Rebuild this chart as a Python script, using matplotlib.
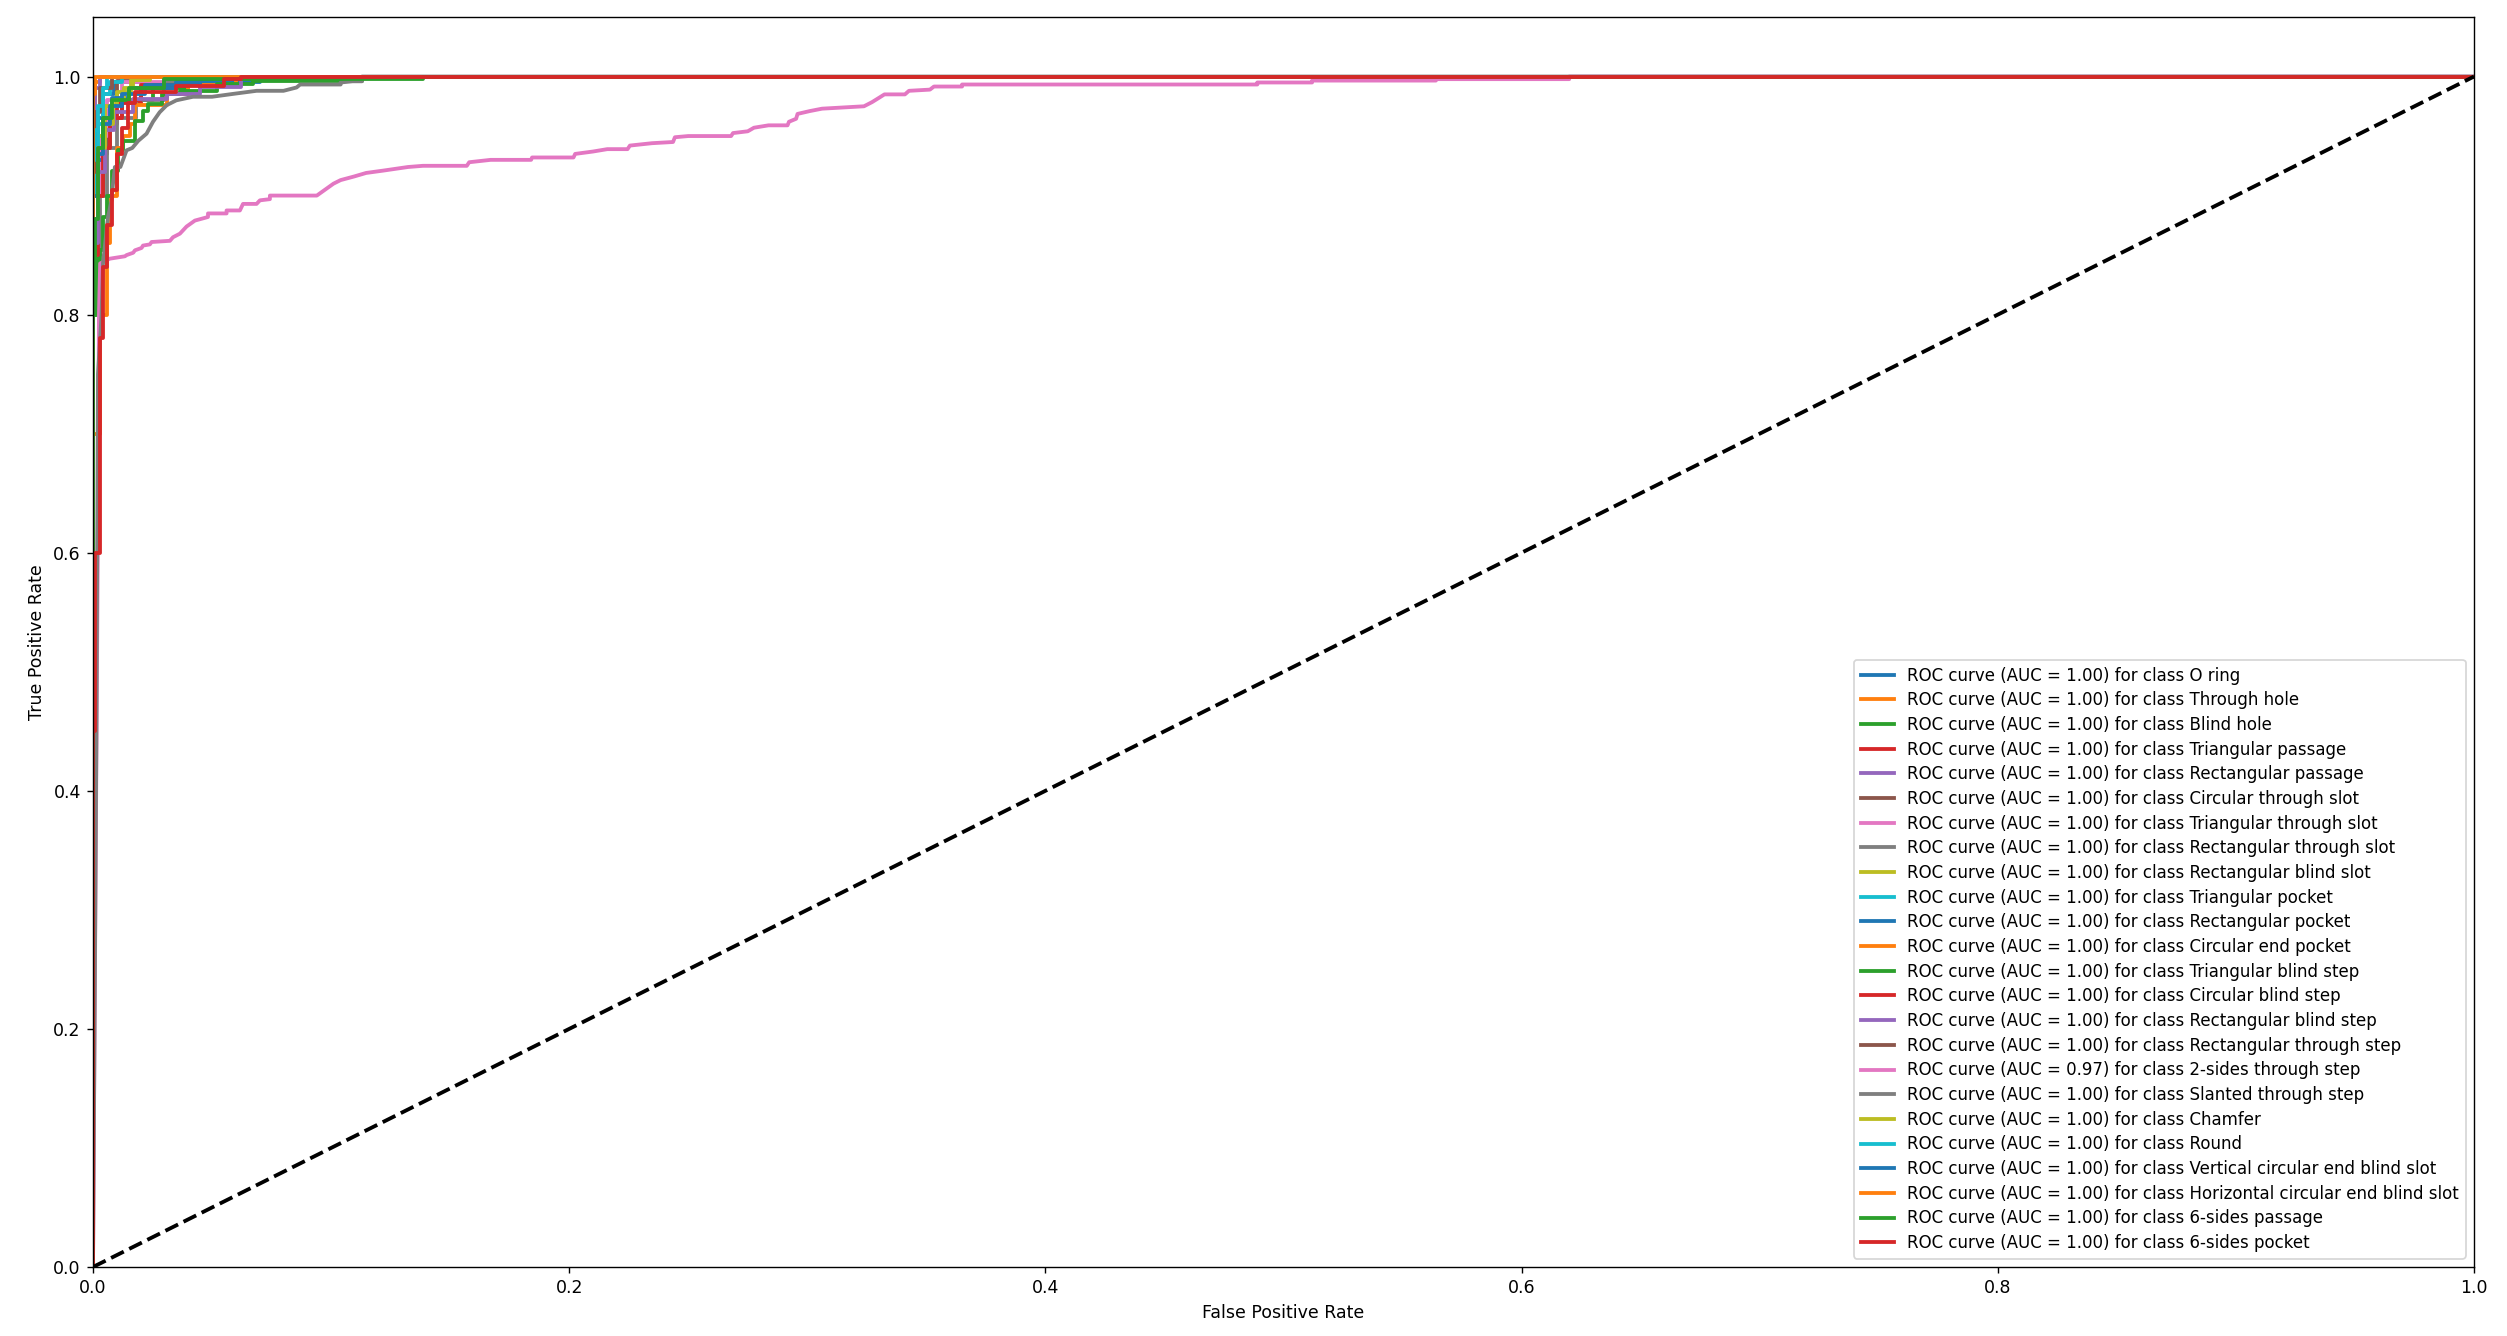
import numpy as np
import matplotlib
matplotlib.use("Agg")
import matplotlib.pyplot as plt

class_names = ['O ring', 'Through hole', 'Blind hole', 'Triangular passage',
               'Rectangular passage', 'Circular through slot', 'Triangular through slot',
               'Rectangular through slot', 'Rectangular blind slot', 'Triangular pocket',
               'Rectangular pocket', 'Circular end pocket', 'Triangular blind step',
               'Circular blind step', 'Rectangular blind step', 'Rectangular through step',
               '2-sides through step', 'Slanted through step', 'Chamfer', 'Round',
               'Vertical circular end blind slot', 'Horizontal circular end blind slot',
               '6-sides passage', '6-sides pocket']
auc_values = [1.00] * 16 + [0.97] + [1.00] * 7

# fpr / tpr points per class
roc_fpr = [
    [0, 0, 0.002, 0.002, 0.004, 0.004, 0.009, 0.009, 0.02, 0.02, 1],  # O ring
    [0, 0, 0.001, 0.001, 0.003, 0.003, 1],  # Through hole
    [0, 0, 0.002, 0.002, 0.004, 0.004, 0.007, 0.007, 0.012, 0.012, 0.025, 0.025, 0.04, 0.04, 1],  # Blind hole
    [0, 0, 0.002, 0.002, 0.005, 0.005, 0.01, 0.01, 0.02, 0.02, 0.032, 0.032, 1],  # Triangular passage
    [0, 0, 0.001, 0.001, 0.003, 0.003, 1],  # Rectangular passage
    [0, 0, 0.002, 0.002, 0.004, 0.004, 0.006, 0.006, 0.01, 0.01, 0.016, 0.016, 1],  # Circular through slot
    [0, 0, 0.003, 0.003, 0.006, 0.006, 0.012, 0.012, 0.03, 0.03, 1],  # Triangular through slot
    [0, 0, 0.003, 0.003, 0.006, 0.006, 0.01, 0.01, 0.018, 0.018, 0.03, 0.03, 0.05, 0.05, 1],  # Rectangular through slot
    [0, 0, 0.002, 0.002, 0.005, 0.005, 0.01, 0.01, 0.016, 0.016, 0.02, 0.02, 1],  # Rectangular blind slot
    [0, 0, 0.001, 0.001, 0.002, 0.002, 0.004, 0.004, 0.007, 0.007, 0.012, 0.012, 1],  # Triangular pocket
    [0, 0, 0.002, 0.002, 0.004, 0.004, 0.008, 0.008, 0.015, 0.015, 0.035, 0.035, 0.07, 0.07, 1],  # Rectangular pocket
    [0, 0, 0.003, 0.003, 0.0057, 0.0057, 0.0071, 0.0071, 0.0099, 0.0099, 0.0127, 0.0127,
     0.0155, 0.0155, 0.0176, 0.0176, 0.031, 0.031, 0.04, 0.04, 0.06, 0.06, 1],  # Circular end pocket
    [0, 0, 0.0021, 0.0021, 0.003, 0.003, 0.0042, 0.0042, 0.0057, 0.0057, 0.0078, 0.0078,
     0.0105, 0.0105, 0.0127, 0.0127, 0.0176, 0.0176, 0.021, 0.021, 0.023, 0.023, 0.029, 0.029,
     0.0365, 0.0365, 0.052, 0.052, 0.067, 0.067, 0.113, 0.113, 1],  # Triangular blind step
    [0, 0, 0.002, 0.002, 0.004, 0.004, 0.007, 0.007, 0.012, 0.012, 0.02, 0.02, 0.045, 0.045, 1],  # Circular blind step
    [0, 0, 0.002, 0.002, 0.005, 0.005, 0.009, 0.009, 0.0169, 0.0169, 0.031, 0.031, 0.045, 0.045, 0.062, 0.062, 1],  # Rectangular blind step
    [0, 0, 0.001, 0.001, 0.003, 0.003, 0.008, 0.008, 1],  # Rectangular through step
    [0, 0.001, 0.002, 0.0025, 0.003, 0.005, 0.0071, 0.0134, 0.0141, 0.0169, 0.0176, 0.0204, 0.021,
     0.0239, 0.0246, 0.0323, 0.0336, 0.0365, 0.0393, 0.0428, 0.0483, 0.0483, 0.0561, 0.0561,
     0.0617, 0.063, 0.0687, 0.0701, 0.0743, 0.0743, 0.094, 0.101, 0.104, 0.1096, 0.1147, 0.122,
     0.1323, 0.1386, 0.157, 0.158, 0.167, 0.184, 0.1844, 0.2018, 0.2025, 0.21, 0.216, 0.2245,
     0.2255, 0.2348, 0.2436, 0.2444, 0.25, 0.268, 0.2688, 0.275, 0.2776, 0.2837, 0.2917, 0.2923,
     0.2953, 0.2959, 0.3011, 0.3062, 0.3238, 0.3272, 0.3305, 0.3324, 0.341, 0.3427, 0.3515,
     0.3532, 0.365, 0.365, 0.489, 0.489, 0.512, 0.512, 0.564, 0.564, 0.62, 0.62, 1],  # 2-sides through step
    [0, 0.0014, 0.0021, 0.0036, 0.0042, 0.0063, 0.0078, 0.0084, 0.0092, 0.0115, 0.0141, 0.0165,
     0.019, 0.0225, 0.0252, 0.028, 0.031, 0.035, 0.042, 0.05, 0.0588, 0.0687, 0.08, 0.0855,
     0.087, 0.104, 0.104, 0.109, 0.113, 0.113, 1],  # Slanted through step
    [0, 0, 0.002, 0.002, 0.005, 0.005, 0.0085, 0.0085, 0.013, 0.013, 0.017, 0.017, 0.024, 0.024, 1],  # Chamfer
    [0, 0, 0.001, 0.001, 0.002, 0.002, 0.004, 0.004, 0.006, 0.006, 1],  # Round
    [0, 0, 0.002, 0.002, 0.004, 0.004, 0.007, 0.007, 0.012, 0.012, 0.022, 0.022, 0.045, 0.045, 1],  # Vertical circular end blind slot
    [0, 0, 0.0008, 0.0008, 1],  # Horizontal circular end blind slot
    [0, 0, 0.001, 0.001, 0.002, 0.002, 0.004, 0.004, 0.008, 0.008, 0.015, 0.015, 0.03, 0.03, 0.1386, 0.1386, 1],  # 6-sides passage
    [0, 0, 0.001, 0.001, 0.003, 0.003, 0.0042, 0.0042, 0.0057, 0.0057, 0.0078, 0.0078, 0.0099,
     0.0099, 0.012, 0.012, 0.0148, 0.0148, 0.0176, 0.0176, 0.035, 0.035, 0.055, 0.055, 0.062, 0.062, 1],  # 6-sides pocket
]
roc_tpr = [
    [0, 0.93, 0.93, 0.965, 0.965, 0.985, 0.985, 0.995, 0.995, 1, 1],
    [0, 0.97, 0.97, 0.995, 0.995, 1, 1],
    [0, 0.82, 0.82, 0.9, 0.9, 0.94, 0.94, 0.965, 0.965, 0.98, 0.98, 0.99, 0.99, 1, 1],
    [0, 0.88, 0.88, 0.93, 0.93, 0.96, 0.96, 0.978, 0.978, 0.99, 0.99, 1, 1],
    [0, 0.96, 0.96, 0.99, 0.99, 1, 1],
    [0, 0.88, 0.88, 0.905, 0.905, 0.935, 0.935, 0.975, 0.975, 0.996, 0.996, 1, 1],
    [0, 0.9, 0.9, 0.95, 0.95, 0.98, 0.98, 0.995, 0.995, 1, 1],
    [0, 0.85, 0.85, 0.9, 0.9, 0.94, 0.94, 0.965, 0.965, 0.98, 0.98, 0.995, 0.995, 1, 1],
    [0, 0.9, 0.9, 0.95, 0.95, 0.975, 0.975, 0.987, 0.987, 0.997, 0.997, 1, 1],
    [0, 0.9, 0.9, 0.94, 0.94, 0.96, 0.96, 0.985, 0.985, 0.995, 0.995, 1, 1],
    [0, 0.88, 0.88, 0.93, 0.93, 0.965, 0.965, 0.982, 0.982, 0.99, 0.99, 0.995, 0.995, 1, 1],
    [0, 0.7, 0.7, 0.8, 0.8, 0.86, 0.86, 0.9, 0.9, 0.94, 0.94, 0.95, 0.95, 0.96, 0.96, 0.976,
     0.976, 0.985, 0.985, 0.993, 0.993, 1, 1],
    [0, 0.8, 0.8, 0.826, 0.826, 0.854, 0.854, 0.882, 0.882, 0.9, 0.9, 0.921, 0.921, 0.938,
     0.938, 0.946, 0.946, 0.963, 0.963, 0.971, 0.971, 0.977, 0.977, 0.985, 0.985, 0.988, 0.988,
     0.994, 0.994, 0.9966, 0.9966, 1, 1],
    [0, 0.85, 0.85, 0.9, 0.9, 0.94, 0.94, 0.965, 0.965, 0.98, 0.98, 0.993, 0.993, 1, 1],
    [0, 0.86, 0.86, 0.92, 0.92, 0.955, 0.955, 0.97, 0.97, 0.981, 0.981, 0.9854, 0.9854, 0.991, 0.991, 1, 1],
    [0, 0.92, 0.92, 0.97, 0.97, 0.99, 0.99, 1, 1],
    [0, 0.3, 0.6, 0.8, 0.843, 0.845, 0.847, 0.849, 0.85, 0.852, 0.854, 0.856, 0.858, 0.859,
     0.861, 0.862, 0.865, 0.868, 0.874, 0.879, 0.882, 0.885, 0.885, 0.8875, 0.8875, 0.893, 0.893, 0.896,
     0.897, 0.9, 0.9, 0.91, 0.913, 0.916, 0.919, 0.921, 0.924, 0.925, 0.925, 0.928, 0.93, 0.93,
     0.932, 0.932, 0.935, 0.937, 0.939, 0.939, 0.942, 0.944, 0.945, 0.949, 0.95, 0.95, 0.9525,
     0.954, 0.957, 0.959, 0.959, 0.962, 0.9645, 0.9686, 0.971, 0.973, 0.975, 0.9785, 0.9826,
     0.985, 0.985, 0.988, 0.989, 0.9916, 0.9916, 0.9933, 0.9933, 0.995, 0.995, 0.9966, 0.9966,
     0.9978, 0.9978, 1, 1],
    [0, 0.44, 0.75, 0.8, 0.843, 0.882, 0.896, 0.91, 0.924, 0.924, 0.938, 0.94, 0.946, 0.952,
     0.962, 0.97, 0.976, 0.98, 0.983, 0.983, 0.9854, 0.988, 0.988, 0.9908, 0.9933, 0.9933,
     0.995, 0.996, 0.996, 1, 1],
    [0, 0.9, 0.9, 0.94, 0.94, 0.96, 0.96, 0.98, 0.98, 0.99, 0.99, 0.997, 0.997, 1, 1],
    [0, 0.93, 0.93, 0.955, 0.955, 0.975, 0.975, 0.99, 0.99, 1, 1],
    [0, 0.9, 0.9, 0.935, 0.935, 0.96, 0.96, 0.975, 0.975, 0.985, 0.985, 0.993, 0.993, 1, 1],
    [0, 0.985, 0.985, 1, 1],
    [0, 0.8, 0.8, 0.88, 0.88, 0.94, 0.94, 0.965, 0.965, 0.98, 0.98, 0.99, 0.99, 0.998, 0.998, 1, 1],
    [0, 0.45, 0.45, 0.6, 0.6, 0.78, 0.78, 0.84, 0.84, 0.875, 0.875, 0.905, 0.905, 0.935, 0.935,
     0.957, 0.957, 0.978, 0.978, 0.987, 0.987, 0.992, 0.992, 0.998, 0.998, 1, 1],
]

fig = plt.figure(figsize=(2507 / 125, 1336 / 125), dpi=125)
ax = fig.add_axes([93 / 2507, 1 - 1267 / 1336, (2474 - 93) / 2507, (1267 - 17) / 1336])

for i in range(len(class_names)):
    ax.plot(roc_fpr[i], roc_tpr[i], lw=2.2,
            label=f'ROC curve (AUC = {auc_values[i]:.2f}) for class {class_names[i]}')

ax.plot([0, 1], [0, 1], 'k--', lw=2.2)
ax.set_xlim([0.0, 1.0])
ax.set_ylim([0.0, 1.05])
ax.set_xlabel('False Positive Rate')
ax.set_ylabel('True Positive Rate')
ax.legend(loc='lower right', fontsize=9.6, labelspacing=0.4)

fig.savefig('out.png', dpi=125)
